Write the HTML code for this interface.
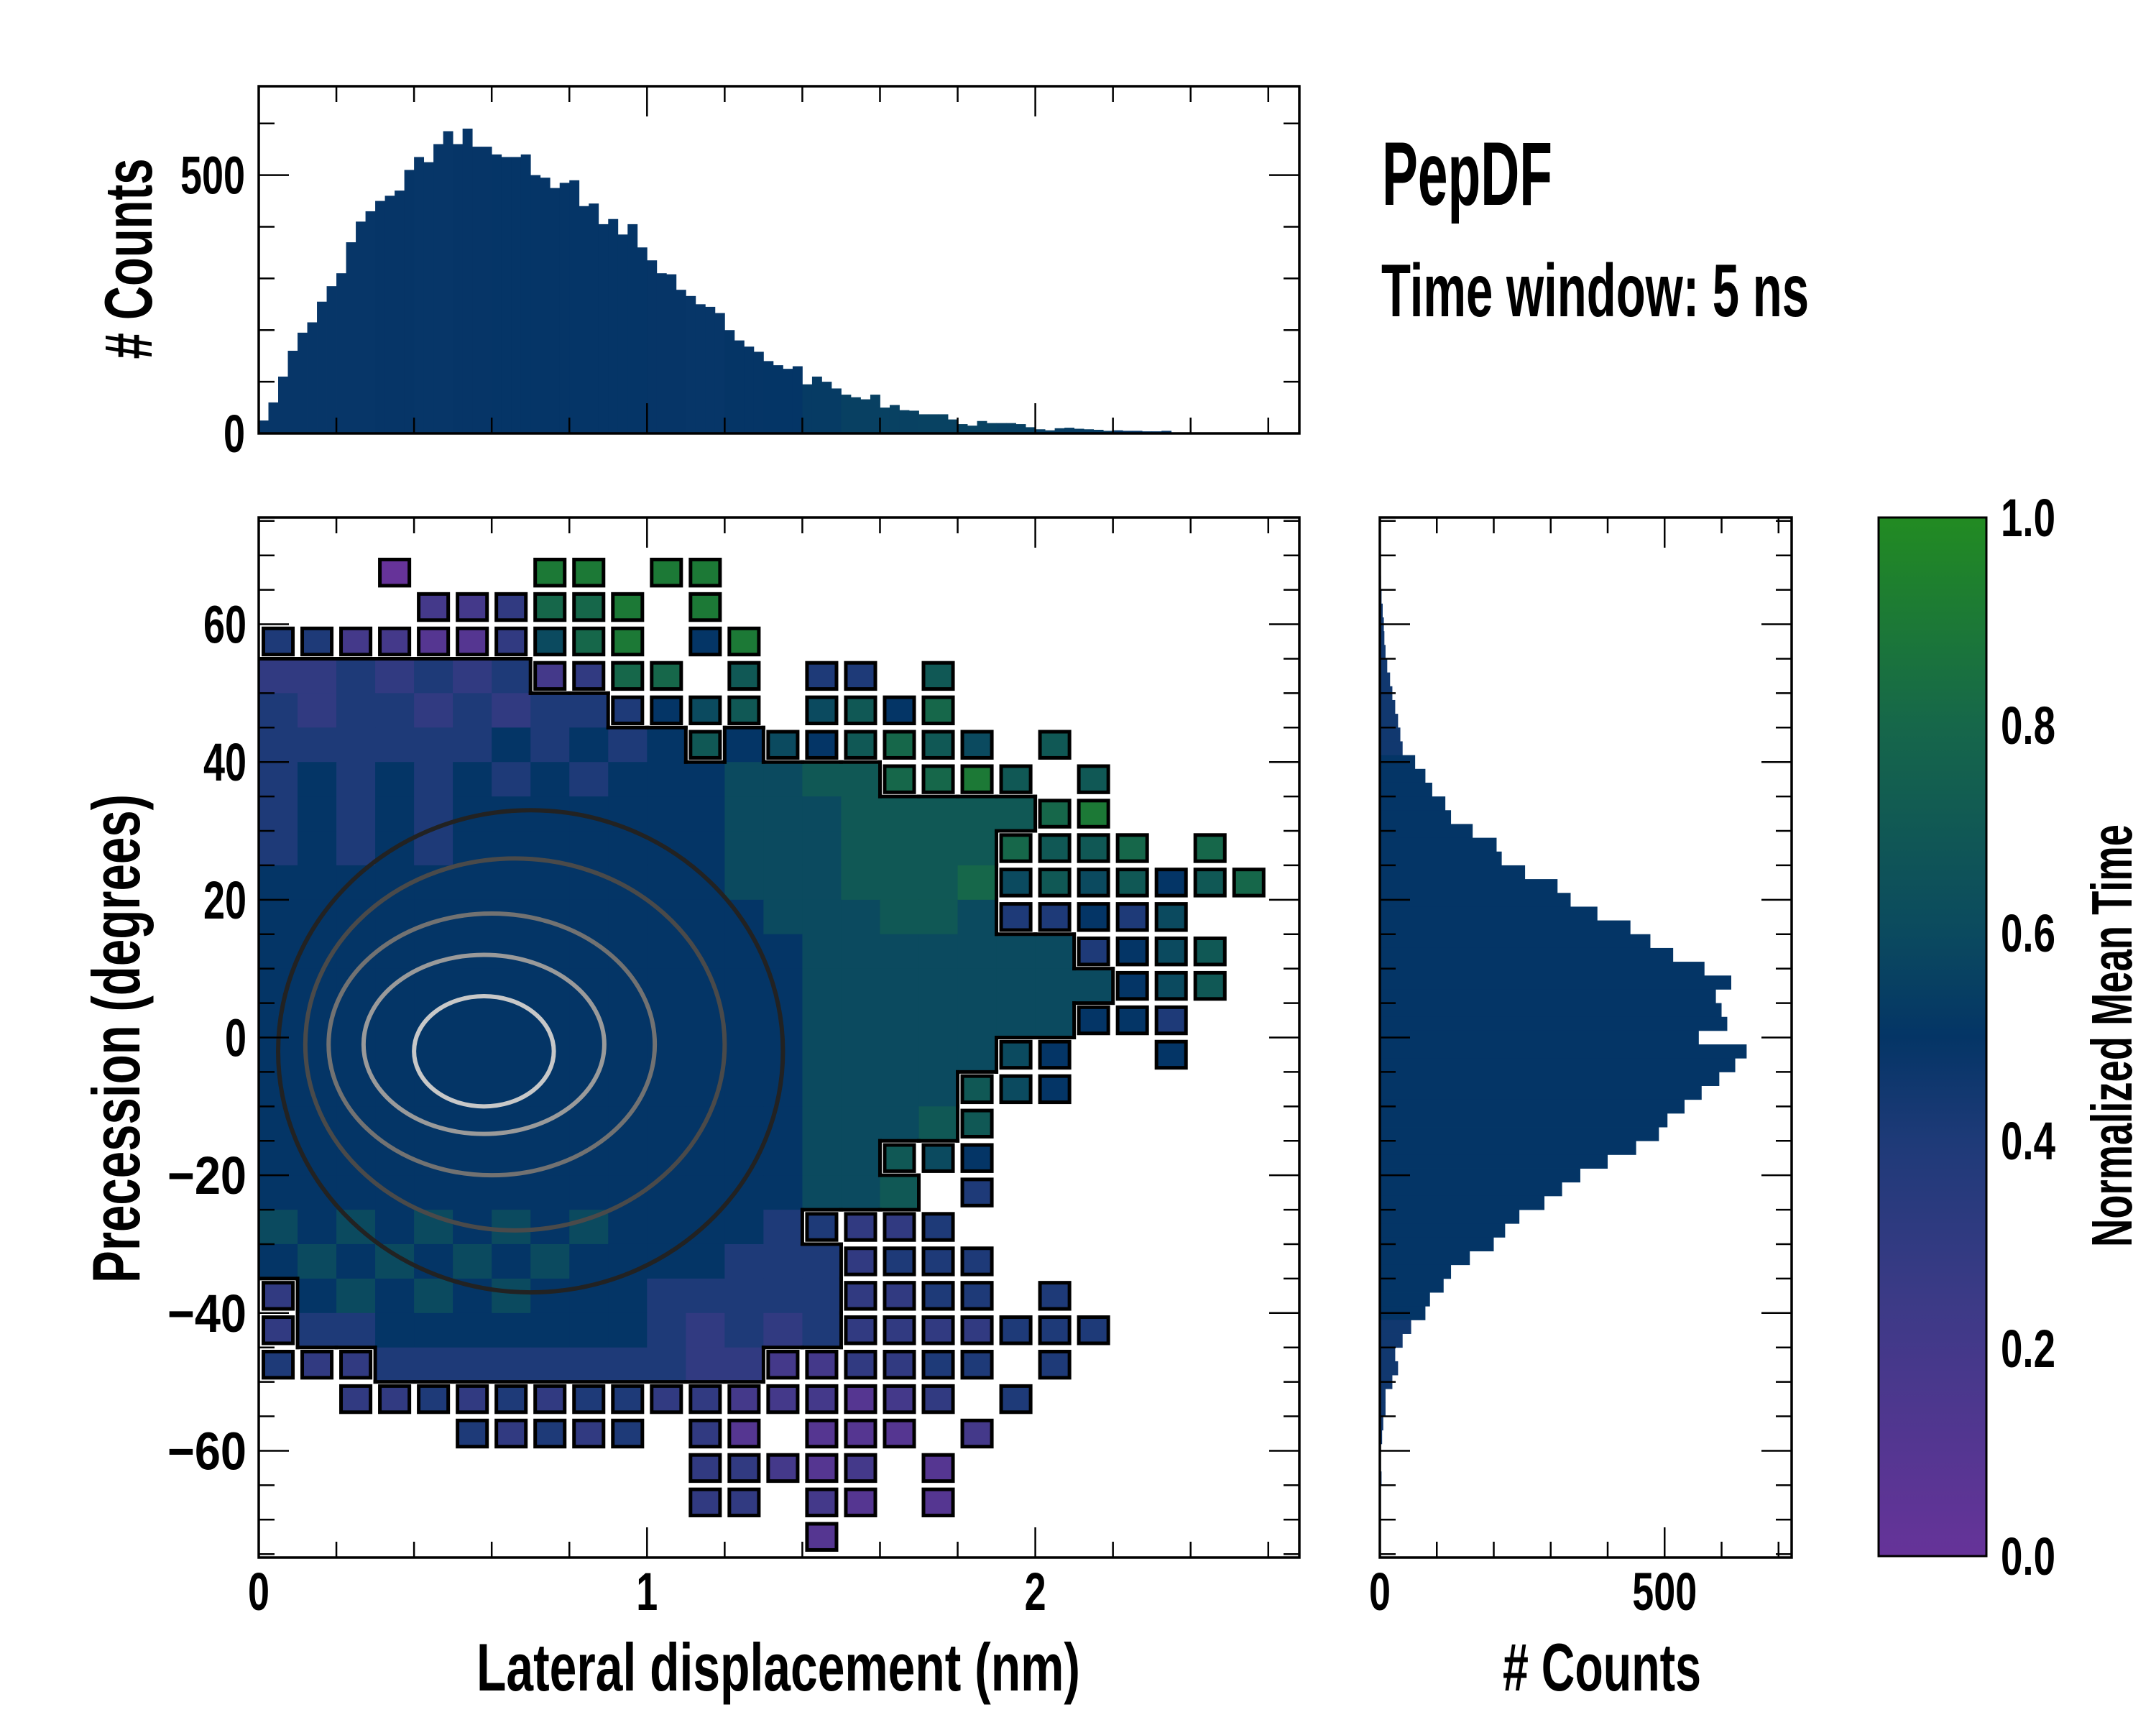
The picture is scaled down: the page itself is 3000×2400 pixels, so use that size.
<!DOCTYPE html>
<html><head><meta charset="utf-8"><style>
html,body{margin:0;padding:0;background:#fff;}
svg{display:block;}
text{font-family:"Liberation Sans Narrow","Liberation Sans",sans-serif;font-weight:bold;fill:#000;}
</style></head><body>
<svg id="fig" width="3000" height="2400" viewBox="0 0 3000 2400" xmlns="http://www.w3.org/2000/svg">
<defs>
<linearGradient id="cmapGrad" x1="0" y1="1" x2="0" y2="0">
<stop offset="0" stop-color="#663399"/><stop offset="0.25" stop-color="#3b3a86"/><stop offset="0.4" stop-color="#1e3a78"/><stop offset="0.5" stop-color="#043566"/><stop offset="0.6" stop-color="#0b4a5f"/><stop offset="0.8" stop-color="#16674a"/><stop offset="1" stop-color="#228b22"/>
</linearGradient>
<clipPath id="mainClip"><rect x="360" y="720" width="1448" height="1447"/></clipPath>
</defs>
<g id="heat" clip-path="url(#mainClip)"></g>
<g id="contours" clip-path="url(#mainClip)"></g>
<g id="topHist"></g>
<g id="rightHist"></g>
<g id="axes"></g>
<rect x="2614" y="720" width="150" height="1445" fill="url(#cmapGrad)" stroke="#000" stroke-width="3"/>
<text x="1923" y="285" font-size="125" textLength="237" lengthAdjust="spacingAndGlyphs">PepDF</text>
<text x="1922" y="440" font-size="104" textLength="595" lengthAdjust="spacingAndGlyphs">Time window: 5 ns</text>
<text x="1083" y="2352" font-size="94" text-anchor="middle" textLength="840" lengthAdjust="spacingAndGlyphs">Lateral displacement (nm)</text>
<text x="2229" y="2352" font-size="94" text-anchor="middle" textLength="276" lengthAdjust="spacingAndGlyphs"># Counts</text>
<text transform="translate(194,1445) rotate(-90)" font-size="94" text-anchor="middle" textLength="680" lengthAdjust="spacingAndGlyphs">Precession (degrees)</text>
<text transform="translate(211,360) rotate(-90)" font-size="94" text-anchor="middle" textLength="279" lengthAdjust="spacingAndGlyphs"># Counts</text>
<text transform="translate(2966,1441) rotate(-90)" font-size="80" text-anchor="middle" textLength="588" lengthAdjust="spacingAndGlyphs">Normalized Mean Time</text>
</svg>
<script>
// ---- data ----
const topCounts = [25,60,110,160,195,215,255,285,310,370,410,430,450,460,470,510,535,525,560,585,560,590,555,555,540,535,535,540,500,495,475,485,490,440,445,405,415,385,405,360,335,310,308,278,266,250,245,233,200,180,168,158,140,132,125,130,95,110,100,87,75,70,66,75,50,55,45,44,37,37,37,27,18,15,24,20,20,20,18,12,8,6,10,11,9,8,7,5,6,5,5,4,4,5,2,2,1,1,1,1,0,0,0,0,0,0,0,0];
const topBinWidth = 0.025;
const rightCenters = [74,72,70,68,66,64,62,60,58,56,54,52,50,48,46,44,42,40,38,36,34,32,30,28,26,24,22,20,18,16,14,12,10,8,6,4,2,0,-2,-4,-6,-8,-10,-12,-14,-16,-18,-20,-22,-24,-26,-28,-30,-32,-34,-36,-38,-40,-42,-44,-46,-48,-50,-52,-54,-56,-58,-60,-62,-64,-66,-68,-70,-72,-74];
const rightCounts = [0,0,0,1,2,3,5,7,8,10,13,18,22,27,32,36,40,62,80,92,115,125,163,205,214,255,312,335,382,440,475,515,570,617,590,600,610,560,644,624,596,565,535,505,490,450,400,352,320,289,245,220,200,158,125,112,88,80,55,40,27,32,22,10,10,6,4,2,2,3,0,0,0,0,0];
const rightBinWidth = 2;
// heatmap: columns 0.1 nm from 0, rows 5 deg from +75 down; digit=dense mean time (d/10), letter a-j=sparse (0..0.9), '.'=empty
const heatRows = [
"...........................",
"...a...jj.jj...............",
"....ccdiij.j...............",
"eeccbbdgij.fj..............",
"3343434cdii.h.ee.h.........",
"434434344efgh.ghfi.........",
"44444454545h5gfhihg.h......",
"4545454545556677iijh.h.....",
"45454555555566677777ij.....",
"4545455555556667777ihhi.i..",
"5555555555556667778ghghfhi.",
"5555555555555666776eefeg...",
"555555555555556666666efgh..",
"5555555555555566666666fgh..",
"555555555555556666666ffe...",
"5555555555555566666gf..f...",
"555555555555556666hgf......",
"555555555555556667h........",
"5555555555555566hgf........",
"55555555555555667.e........",
"65656565655554edde.........",
"565656565555444deee........",
"d56565655544444ddee.e......",
"d44555555543434ddddeee.....",
"edd4444444433ccddee.e......",
"..ddededeeddcccbcd.e.......",
".....edede.db.bbb.c........",
"...........ddcbc.b.........",
"...........dd.cb.b.........",
"..............b............"
];
const heatColWidth = 0.1, heatRowHeight = 5, heatTop = 75;
const contourCx = [0.70,0.66,0.60,0.58,0.58];
const contourCy = [-2,-1,-1,-1,-2];
const contourRx = [0.65,0.54,0.42,0.31,0.18];
const contourRy = [35,27,19,13,8];
const contourColor = ['#222222','#4a4a4a','#727272','#9a9a9a','#c8c8c8'];
const mainXTicks = [0,1,2], mainYTicks = [60,40,20,0,-20,-40,-60];
const topYTicks = [0,500], rightXTicks = [0,500];
const cbarTicks = [0,0.2,0.4,0.6,0.8,1.0];

// ---- geometry ----
const M = {L:360,R:1808,T:720,B:2167,x0:0,x1:2.68,y0:-75.5,y1:75.5};
const TP = {L:360,R:1808,T:120,B:603,y0:0,y1:672};
const RP = {L:1920,R:2493,T:720,B:2167,x0:0,x1:723};
const CB = {L:2614,R:2764,T:720,B:2165};
const sx = v => M.L + (v-M.x0)/(M.x1-M.x0)*(M.R-M.L);
const sy = v => M.T + (M.y1-v)/(M.y1-M.y0)*(M.B-M.T);
const ty = v => TP.B - (v-TP.y0)/(TP.y1-TP.y0)*(TP.B-TP.T);
const rx = v => RP.L + (v-RP.x0)/(RP.x1-RP.x0)*(RP.R-RP.L);
const cy = v => CB.B - v*(CB.B-CB.T);
const NS='http://www.w3.org/2000/svg';
function mk(tag, attrs, parent){const e=document.createElementNS(NS,tag);for(const k in attrs)e.setAttribute(k,attrs[k]);parent.appendChild(e);return e;}
const stops=[[0,[0x66,0x33,0x99]],[0.25,[0x3b,0x3a,0x86]],[0.4,[0x1e,0x3a,0x78]],[0.5,[0x04,0x35,0x66]],[0.6,[0x0b,0x4a,0x5f]],[0.8,[0x16,0x67,0x4a]],[1,[0x22,0x8b,0x22]]];
function cmap(t){t=Math.max(0,Math.min(1,t));for(let i=1;i<stops.length;i++){if(t<=stops[i][0]){const a=stops[i-1],b=stops[i];const f=(t-a[0])/(b[0]-a[0]);const c=a[1].map((v,j)=>Math.round(v+(b[1][j]-v)*f));return `rgb(${c[0]},${c[1]},${c[2]})`;}}return 'rgb(34,139,34)';}
function cell(r,c){const row=heatRows[r];if(!row||c<0||c>=row.length)return null;const ch=row[c];if(ch==='.'||ch===undefined)return null;if(ch>='0'&&ch<='9')return {v:(+ch)/10,dense:true};return {v:(ch.charCodeAt(0)-97)/10,dense:false};}

// ---- heatmap ----
const heat=document.getElementById('heat');
for(let r=0;r<heatRows.length;r++){for(let c=0;c<heatRows[r].length;c++){
  const d=cell(r,c); if(!d) continue;
  const x0=sx(c*heatColWidth), x1=sx((c+1)*heatColWidth), y0=sy(heatTop-r*heatRowHeight), y1=sy(heatTop-(r+1)*heatRowHeight);
  let el;
  if(d.dense){
    el=mk('rect',{x:x0,y:y0,width:x1-x0+0.5,height:y1-y0+0.5,fill:cmap(d.v)},heat);
  } else {
    const w=x1-x0,h=y1-y0;
    el=mk('rect',{x:x0+w*0.12,y:y0+h*0.12,width:w*0.76,height:h*0.76,fill:cmap(d.v),stroke:'#000','stroke-width':5},heat);
  }
  
  
}}
// outline edges of dense region
for(let r=0;r<heatRows.length;r++){for(let c=0;c<heatRows[r].length;c++){
  const d=cell(r,c); if(!d||!d.dense) continue;
  const x0=sx(c*heatColWidth), x1=sx((c+1)*heatColWidth), y0=sy(heatTop-r*heatRowHeight), y1=sy(heatTop-(r+1)*heatRowHeight);
  const edges=[];
  const up=cell(r-1,c),dn=cell(r+1,c),lf=cell(r,c-1),rt=cell(r,c+1);
  if(!up||!up.dense)edges.push([x0,y0,x1,y0]);
  if(!dn||!dn.dense)edges.push([x0,y1,x1,y1]);
  if(c>0&&(!lf||!lf.dense))edges.push([x0,y0,x0,y1]);
  if(!rt||!rt.dense)edges.push([x1,y0,x1,y1]);
  for(const e of edges){const ln=mk('line',{x1:e[0],y1:e[1],x2:e[2],y2:e[3],stroke:'#000','stroke-width':5,'stroke-linecap':'square'},heat);
    
    }
}}
// contours
const cg=document.getElementById('contours');
for(let i=0;i<contourCx.length;i++){
  const e=mk('ellipse',{cx:sx(contourCx[i]),cy:sy(contourCy[i]),rx:sx(contourRx[i])-sx(0),ry:sy(0)-sy(contourRy[i]),fill:'none',stroke:contourColor[i],'stroke-width':6},cg);
  
  
}

// column / row mean colors for histograms
function colMean(c){let s=0,n=0;for(let r=0;r<heatRows.length;r++){const d=cell(r,c);if(d&&d.dense){s+=d.v;n++;}}return n?s/n:0.5;}

// top histogram
const th=document.getElementById('topHist');
for(let i=0;i<topCounts.length;i++){
  if(topCounts[i]<=0) continue;
  const a=i*topBinWidth,b=(i+1)*topBinWidth;
  if(sx(a)>=M.R) continue;
  const colIdx=Math.floor(a/heatColWidth);
  const bar=mk('rect',{x:sx(a),y:ty(topCounts[i]),width:Math.min(sx(b),M.R)-sx(a)+0.4,height:TP.B-ty(topCounts[i]),fill:cmap(Math.min(0.58,0.5+(colMean(colIdx)-0.5)*0.4))},th);
  
  
}
// right histogram
const rh=document.getElementById('rightHist');
for(let i=0;i<rightCounts.length;i++){
  if(rightCounts[i]<=0) continue;
  const top=rightCenters[i]+rightBinWidth/2, bot=rightCenters[i]-rightBinWidth/2;
  const bar=mk('rect',{x:RP.L,y:sy(top),width:rx(rightCounts[i])-RP.L,height:sy(bot)-sy(top)+0.4,fill:cmap(Math.abs(rightCenters[i])>40?0.45:0.5)},rh);
  
  
}

// ---- axes ----
const ax=document.getElementById('axes');
function line(x1,y1,x2,y2,w){const l=mk('line',{x1,y1,x2,y2,stroke:'#000','stroke-width':w||2.5},ax);
  
  return l;}
function frame(L,T,R,B,name){const f=mk('rect',{x:L,y:T,width:R-L,height:B-T,fill:'none',stroke:'#000','stroke-width':3.5},ax);
  
  }
function txtWidth(s){let w=0;for(const ch of s){w+= ch==='\u2212'?50:(ch==='.'?16:30);}return w;}
function label(x,y,txt,anchor,name){const t=mk('text',{x,y,'font-size':74,'text-anchor':anchor,textLength:txtWidth(txt),lengthAdjust:'spacingAndGlyphs'},ax);t.textContent=txt;
  
  }
const fmt=v=>v<0?'\u2212'+(-v):''+v;
for(let v=0;v<=2.68+1e-9;v+=0.2){const X=sx(v);const major=Math.abs(v-Math.round(v))<1e-6;const len=major?42:22;
  line(X,M.B,X,M.B-len);line(X,M.T,X,M.T+len);line(X,TP.B,X,TP.B-len);line(X,TP.T,X,TP.T+len);}
for(const v of mainXTicks)label(sx(v),2240,''+v,'middle','x-tick-label');
for(let v=-75;v<=75;v+=5){const Y=sy(v);const major=v%20===0;const len=major?42:22;
  line(M.L,Y,M.L+len,Y);line(M.R,Y,M.R-len,Y);line(RP.L,Y,RP.L+len,Y);line(RP.R,Y,RP.R-len,Y);}
for(const v of mainYTicks)label(343,sy(v)+26,fmt(v),'end','y-tick-label');
for(let v=0;v<=670;v+=100){const Y=ty(v);const len=v%500===0?42:22;line(TP.L,Y,TP.L+len,Y);line(TP.R,Y,TP.R-len,Y);}
for(const v of topYTicks)label(341,ty(v)+26,''+v,'end','top-y-tick-label');
for(let v=0;v<=723;v+=100){const X=rx(v);const len=v%500===0?42:22;line(X,RP.B,X,RP.B-len);line(X,RP.T,X,RP.T+len);}
for(const v of rightXTicks)label(rx(v),2240,''+v,'middle','right-x-tick-label');
for(let i=0;i<=20;i++){const v=i*0.05;const Y=cy(v);const len=i%4===0?42:22;line(CB.R,Y,CB.R-len,Y,2.5);}
for(const v of cbarTicks)label(2784,cy(v)+26,v.toFixed(1),'start','colorbar-tick-label');
frame(M.L,M.T,M.R,M.B,'main-plot-frame');
frame(TP.L,TP.T,TP.R,TP.B,'top-hist-frame');
frame(RP.L,RP.T,RP.R,RP.B,'right-hist-frame');
</script>
</body></html>
